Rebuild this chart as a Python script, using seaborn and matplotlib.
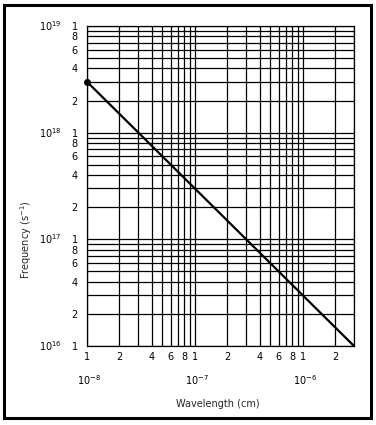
import matplotlib
matplotlib.use("Agg")
import matplotlib.pyplot as plt
import matplotlib.transforms as mtransforms
from matplotlib.patches import Rectangle
import seaborn as sns
import pandas as pd
import numpy as np

# Data
wavelength_cm = [1e-8, 3e-6]
frequency_s = [3e18, 1e16]
x_decades = [-8, -7, -6]
y_decades = [16, 17, 18, 19]
x_label_mults = [1, 2, 4, 6, 8]
y_label_mults = [1, 2, 4, 6, 8]

sns.set_theme(style="white")
plt.rcParams['font.family'] = ['DejaVu Sans']

fig = plt.figure(figsize=(3.76, 4.25), dpi=100)
ax = fig.add_axes([87/376, 1-346/425, (354-87)/376, (346-26)/425])

df = pd.DataFrame({"wavelength": wavelength_cm, "frequency": frequency_s})
sns.lineplot(data=df, x="wavelength", y="frequency", ax=ax, color="black", linewidth=1.6)
ax.plot([wavelength_cm[0]], [frequency_s[0]], 'o', color='black', markersize=4, clip_on=False, zorder=5)

ax.set_xscale('log')
ax.set_yscale('log')
ax.set_xlim(1e-8, 3e-6)
ax.set_ylim(1e16, 1e19)

# grid positions
xg = [m * 10.0**d for d in x_decades for m in range(1, 10) if m * 10.0**d <= 3e-6 * 1.0001]
yg = [m * 10.0**d for d in y_decades for m in range(1, 10) if m * 10.0**d <= 1e19 * 1.0001]
for v in xg:
    ax.axvline(v, color='black', linewidth=0.9, zorder=1)
for v in yg:
    ax.axhline(v, color='black', linewidth=0.9, zorder=1)

for s in ax.spines.values():
    s.set_visible(True)
    s.set_color('black')
    s.set_linewidth(0.9)

ax.set_xticks([], minor=True)
ax.set_yticks([], minor=True)
xt = [m * 10.0**d for d in x_decades for m in x_label_mults if m * 10.0**d <= 3e-6 * 1.0001]
xtl = [str(int(round(v / 10.0**np.floor(np.log10(v) + 1e-9)))) for v in xt]
yt = [m * 10.0**d for d in y_decades for m in y_label_mults if m * 10.0**d <= 1e19 * 1.0001]
ytl = [str(int(round(v / 10.0**np.floor(np.log10(v) + 1e-9)))) for v in yt]
ax.set_xticks(xt)
ax.set_xticklabels(xtl, fontsize=7)
ax.set_yticks(yt)
ax.set_yticklabels(ytl, fontsize=7)
ax.tick_params(axis='both', length=0, pad=4, colors='black')
ax.tick_params(axis='y', pad=6.5)
ax.set_xlabel('')
ax.set_ylabel('')

# decade labels
tx = mtransforms.blended_transform_factory(ax.transData, ax.transAxes)
for d in x_decades:
    ax.text(10.0**d * 1.05, -0.085, r'$\mathregular{10^{%d}}$' % d, transform=tx,
            ha='center', va='top', fontsize=7, color='black')
ty = mtransforms.blended_transform_factory(ax.transAxes, ax.transData)
for d in y_decades:
    ax.text(-0.094, 10.0**d, r'$\mathregular{10^{%d}}$' % d, transform=ty,
            ha='right', va='center', fontsize=7, color='black')

fig.text(218/376, 1-404/425, 'Wavelength (cm)', ha='center', va='center', fontsize=7)
fig.text(26/376, 1-240/425, r'Frequency (s$^{\mathregular{-1}}$)', ha='center', va='center',
         fontsize=7, rotation=90)

fig.patches.append(Rectangle((4/376, 1-418/425), 367/376, 413/425, transform=fig.transFigure,
                             fill=False, edgecolor='black', linewidth=2.2))

fig.savefig('out.png', dpi=100, facecolor='white')
